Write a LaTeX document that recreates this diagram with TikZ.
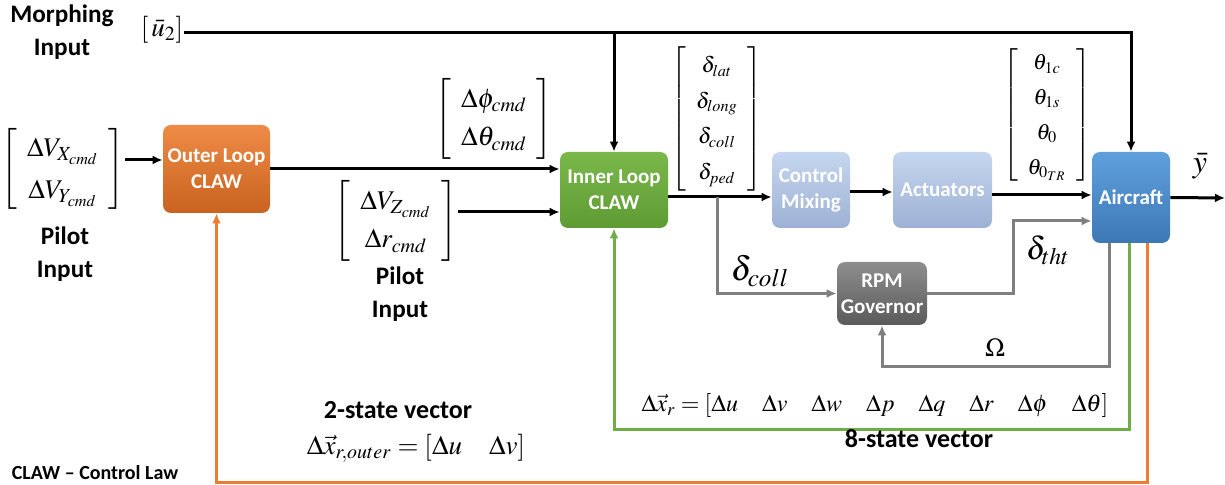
\documentclass[tikz,border=0pt]{standalone}
\usepackage{amsmath}
\usepackage{mathptmx}
\usepackage[no-math]{fontspec}
\setmainfont{Carlito}
\usetikzlibrary{arrows.meta,calc}
\definecolor{outerA}{HTML}{EE8B46}
\definecolor{outerB}{HTML}{C9631F}
\definecolor{innerA}{HTML}{7BB84B}
\definecolor{innerB}{HTML}{5E9B34}
\definecolor{paleA}{HTML}{C6D6EF}
\definecolor{paleB}{HTML}{9CB1D4}
\definecolor{craftA}{HTML}{5FA0DC}
\definecolor{craftB}{HTML}{3D78B6}
\definecolor{govA}{HTML}{8E8E8E}
\definecolor{govB}{HTML}{5A5A5A}
\definecolor{fbgray}{HTML}{7F7F7F}
\definecolor{fbgreen}{HTML}{70AD47}
\definecolor{fborange}{HTML}{ED7D31}
\newcommand{\colvec}[1]{\left[\begin{array}{c}#1\end{array}\right]}

\begin{document}
\begin{tikzpicture}[x=0.5pt,y=-0.5pt,>={Latex[length=5pt,width=4.5pt]}]
	% `blk' is used for the rounded blocks, `lbl' for the bold captions.
	\tikzset{blk/.style={rounded corners=4pt,text=white,align=center,inner sep=0pt,
		font=\bfseries\fontsize{10.5}{13}\selectfont}}
	\tikzset{lbl/.style={align=center,font=\bfseries\fontsize{12.6}{16.5}\selectfont}}
	\tikzset{vecbig/.style={inner sep=0pt,font=\fontsize{13.5}{16}\selectfont}}
	\tikzset{vecsmall/.style={inner sep=0pt,font=\fontsize{11}{12}\selectfont}}
	\tikzset{sig/.style={line width=1.5pt,->}}
	\tikzset{gsig/.style={line width=1.5pt,->,draw=fbgray}}
	\useasboundingbox (0,0) rectangle (1225,485);
	%
	% Blocks.
	\node[blk,minimum width=53.5pt,minimum height=44pt,top color=outerA,bottom color=outerB]
		(outer) at (216.5,169) {Outer Loop\\CLAW};
	\node[blk,minimum width=54pt,minimum height=38pt,top color=innerA,bottom color=innerB]
		(inner) at (614,190) {Inner Loop\\CLAW};
	\node[blk,minimum width=39pt,minimum height=38pt,top color=paleA,bottom color=paleB]
		(mix) at (811,190) {Control\\Mixing};
	\node[blk,minimum width=49.5pt,minimum height=38pt,top color=paleA,bottom color=paleB]
		(act) at (942.5,190) {Actuators};
	\node[blk,minimum width=39pt,minimum height=45.5pt,top color=craftA,bottom color=craftB]
		(craft) at (1131,197.5) {Aircraft};
	\node[blk,minimum width=45pt,minimum height=31.5pt,top color=govA,bottom color=govB]
		(rpm) at (882,293.5) {RPM\\Governor};
	%
	% Inputs and signal vectors.
	\node[lbl] (morph) at (62,32) {Morphing\\Input};
	\node[vecbig] (ubar) at (162,30) {$\left[\,\bar{u}_2\right]$};
	\node[vecbig] (pilotA) at (63,169) {\renewcommand{\arraystretch}{1.3}%
		$\colvec{\Delta V_{X_{cmd}}\\ \Delta V_{Y_{cmd}}}$};
	\node[lbl] (pilotAtxt) at (65,254) {Pilot\\Input};
	\node[vecbig] (cmdang) at (494,119) {\renewcommand{\arraystretch}{1.2}%
		$\colvec{\Delta\phi_{cmd}\\ \Delta\theta_{cmd}}$};
	\node[vecbig] (pilotB) at (396,221) {\renewcommand{\arraystretch}{1.2}%
		$\colvec{\Delta V_{Z_{cmd}}\\ \Delta r_{cmd}}$};
	\node[lbl] (pilotBtxt) at (400,294) {Pilot\\Input};
	\node[vecsmall] (stick) at (717,119) {\renewcommand{\arraystretch}{1.48}%
		$\colvec{\delta_{lat}\\ \delta_{long}\\ \delta_{coll}\\ \delta_{ped}}$};
	\node[vecsmall] (pitch) at (1047,115) {\renewcommand{\arraystretch}{1.45}%
		$\colvec{\theta_{1c}\\ \theta_{1s}\\ \theta_{0}\\ \theta_{0_{TR}}}$};
	\node[inner sep=0pt,font=\fontsize{17}{20}\selectfont] (dcoll) at (760,271) {$\delta_{coll}$};
	\node[inner sep=0pt,font=\fontsize{16}{20}\selectfont] (dtht) at (1048,250) {$\delta_{tht}$};
	\node[inner sep=0pt,font=\fontsize{16}{20}\selectfont] (ybar) at (1200,166) {$\bar{y}$};
	\node[inner sep=0pt,font=\fontsize{13}{16}\selectfont] (omega) at (995,348) {$\Omega$};
	%
	% Connectors.
	\coordinate (mtop) at (1131,33);
	\coordinate (split) at (717,197);
	\coordinate (tht) at (1013,221);
	\coordinate (yout) at (1225,198);
	\coordinate (rowO) at (0,367);
	\coordinate (rowG) at (0,430);
	\coordinate (rowR) at (0,483);
	\draw[sig] ([yshift=-1.5pt]ubar.east) -| (craft.north);
	\draw[sig] (inner.north |- mtop) -- (inner.north);
	\draw[sig] ([yshift=4.5pt]pilotA.east) -- ([yshift=4.5pt]pilotA.east -| outer.west);
	\draw[sig] (outer.east) -- (outer.east -| inner.west);
	\draw[sig] ([yshift=4.5pt]pilotB.east) -- ([yshift=4.5pt]pilotB.east -| inner.west);
	\draw[sig] (inner.east |- split) -- (mix.west |- split);
	\draw[gsig] (split) |- (rpm.west);
	\draw[sig] ([yshift=-1pt]mix.east) -- ([yshift=-1pt]act.west);
	\draw[sig] ([yshift=-2.5pt]act.east) -- ([yshift=-2.5pt]act.east -| craft.west);
	\draw[gsig] (rpm.east) -| (tht) -- (tht -| craft.west);
	\draw[sig] (craft.east) -- (yout);
	% Feedback loops.
	\draw[gsig] ([xshift=-11pt]craft.south) |- (rowO -| rpm.south) -- (rpm.south);
	\draw[sig,draw=fbgreen] ([xshift=-1pt]craft.south) |- (rowG -| inner.south) -- (inner.south);
	\draw[sig,draw=fborange] ([xshift=8pt]craft.south) |- (rowR -| outer.south) -- (outer.south);
	%
	% State vectors and notes.
	\node[inner sep=0pt,font=\fontsize{12}{14}\selectfont] (xinner) at (875,406)
		{$\Delta\vec{x}_r=\left[\Delta u\quad\Delta v\quad\Delta w\quad\Delta p\quad\Delta q\quad\Delta r\quad\Delta\phi\quad\Delta\theta\right]$};
	\node[lbl,font=\bfseries\fontsize{13}{15}\selectfont] (eighttxt) at (919,439) {8-state vector};
	\node[lbl,font=\bfseries\fontsize{13}{15}\selectfont] (twotxt) at (398,410) {2-state vector};
	\node[inner sep=0pt,font=\fontsize{13.5}{15}\selectfont] (xouter) at (416,448)
		{$\Delta\vec{x}_{r,outer}=\left[\Delta u\quad\Delta v\right]$};
	\node[lbl,font=\bfseries\fontsize{10}{12}\selectfont] (claw) at (95,473) {CLAW -- Control Law};
\end{tikzpicture}
\end{document}
